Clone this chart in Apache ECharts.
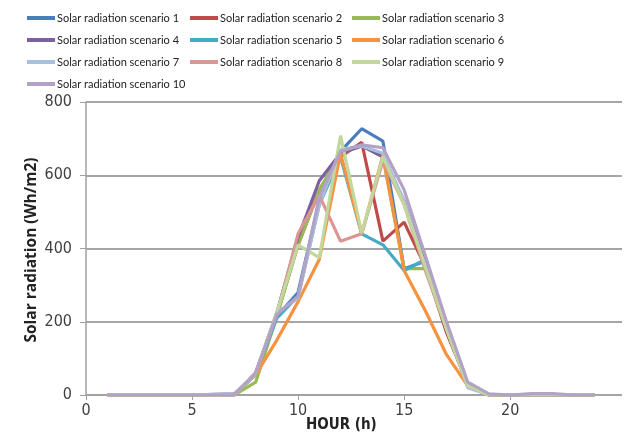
<!DOCTYPE html>
<html>
<head>
<meta charset="utf-8">
<script src="https://cdn.jsdelivr.net/npm/echarts@6/dist/echarts.min.js"></script>
<style>
  html, body { margin: 0; padding: 0; background: #fff; }
  #main { width: 642px; height: 442px; }
</style>
</head>
<body>
<div id="main"></div>
<script>
// hours 1..24
const hours = [1, 2, 3, 4, 5, 6, 7, 8, 9, 10, 11, 12, 13, 14, 15, 16, 17, 18, 19, 20, 21, 22, 23, 24];

const scenarioNames = [
  'Solar radiation scenario 1', 'Solar radiation scenario 2', 'Solar radiation scenario 3',
  'Solar radiation scenario 4', 'Solar radiation scenario 5', 'Solar radiation scenario 6',
  'Solar radiation scenario 7', 'Solar radiation scenario 8', 'Solar radiation scenario 9',
  'Solar radiation scenario 10'
];

const colors = ['#4a7ebb', '#be4b48', '#98b954', '#7d60a0', '#46aac5', '#f69240',
  '#a7c0de', '#d99694', '#c3d69b', '#b3a2c7'];

const s1 = [0, 0, 0, 0, 0, 2, 3, 60, 215, 280, 530, 665, 727, 693, 345, 365, 190, 30, 0, 0, 0, 0, 0, 0];
const s2 = [0, 0, 0, 0, 0, 0, 0, 60, 220, 410, 560, 650, 690, 420, 472, 350, 170, 30, 0, 0, 0, 0, 0, 0];
const s3 = [0, 0, 0, 0, 0, 0, 0, 35, 215, 410, 560, 660, 680, 650, 345, 345, 180, 25, 0, 0, 0, 0, 0, 0];
const s4 = [0, 0, 0, 0, 0, 0, 0, 60, 225, 430, 585, 660, 680, 650, 530, 360, 180, 25, 0, 0, 0, 0, 0, 0];
const s5 = [0, 0, 0, 0, 0, 0, 0, 60, 210, 270, 520, 650, 440, 410, 340, 370, 180, 25, 0, 0, 0, 0, 0, 0];
const s6 = [0, 0, 0, 0, 0, 0, 0, 55, 150, 255, 370, 660, 440, 655, 340, 230, 110, 25, 0, 0, 0, 0, 0, 0];
const s7 = [0, 0, 0, 0, 0, 0, 0, 60, 225, 265, 520, 670, 680, 660, 530, 350, 190, 20, 0, 0, 0, 0, 0, 0];
const s8 = [0, 0, 0, 0, 0, 0, 0, 60, 220, 440, 545, 420, 440, 640, 520, 340, 180, 30, 0, 0, 0, 0, 0, 0];
const s9 = [0, 0, 0, 0, 0, 0, 0, 60, 225, 410, 375, 708, 442, 651, 520, 350, 180, 25, 0, 0, 0, 0, 0, 0];
const s10 = [0, 0, 0, 0, 0, 0, 0, 60, 220, 270, 540, 665, 683, 675, 560, 380, 200, 35, 3, 0, 4, 4, 0, 0];

const allSeries = [s1, s2, s3, s4, s5, s6, s7, s8, s9, s10];

const xTicks = [0, 5, 10, 15, 20];
const yTicks = [0, 200, 400, 600, 800];

const chart = echarts.init(document.getElementById('main'));

const labelFont = "'DejaVu Sans Condensed', Lato, sans-serif";
const legendCommon = {
  orient: 'vertical',
  top: 6,
  icon: 'rect',
  itemWidth: 28,
  itemHeight: 4,
  itemGap: 8,
  itemStyle: { borderWidth: 0 },
  textStyle: { fontFamily: 'Lato', fontSize: 11, color: '#222', lineHeight: 14, padding: [0, 0, 0, -3] }
};

const option = {
  animation: false,
  color: colors,
  legend: [
    Object.assign({ left: 22, data: [scenarioNames[0], scenarioNames[3], scenarioNames[6], scenarioNames[9]] }, legendCommon),
    Object.assign({ left: 185, data: [scenarioNames[1], scenarioNames[4], scenarioNames[7]] }, legendCommon),
    Object.assign({ left: 347, data: [scenarioNames[2], scenarioNames[5], scenarioNames[8]] }, legendCommon)
  ],
  grid: [
    { left: 86, right: 47, top: 102, bottom: 47 },
    { left: 86, right: 20, top: 102, bottom: 47 }
  ],
  xAxis: [
    {
      type: 'value', gridIndex: 0, min: 0, max: 24, interval: 5,
      axisLine: { show: true, lineStyle: { color: '#a0a0a0', width: 1.5 } },
      axisTick: { show: true, length: 5, customValues: xTicks, lineStyle: { color: '#a0a0a0' } },
      splitLine: { show: false },
      axisLabel: {
        margin: 8, customValues: xTicks,
        fontFamily: labelFont, fontSize: 16, color: '#404040'
      }
    },
    { type: 'value', gridIndex: 1, min: 0, max: 24, show: false }
  ],
  yAxis: [
    {
      type: 'value', gridIndex: 0, min: 0, max: 800, interval: 200,
      axisLine: { show: true, lineStyle: { color: '#a0a0a0', width: 1.5 } },
      axisTick: { show: true, length: 6, lineStyle: { color: '#a0a0a0' } },
      splitLine: { show: false },
      axisLabel: {
        margin: 14, customValues: yTicks,
        fontFamily: labelFont, fontSize: 16, color: '#404040'
      }
    },
    {
      type: 'value', gridIndex: 1, min: 0, max: 800, interval: 200,
      axisLine: { show: false }, axisTick: { show: false }, axisLabel: { show: false },
      splitLine: { show: true, lineStyle: { color: '#a6a6a6', width: 2 } }
    }
  ],
  graphic: [
    {
      type: 'text', left: 306, top: 418,
      style: { text: 'HOUR (h)', fontFamily: labelFont, fontWeight: 'bold', fontSize: 15, fill: '#222' }
    },
    {
      type: 'text', x: 32, y: 250, rotation: Math.PI / 2,
      style: {
        text: 'Solar radiation (Wh/m2)', fontFamily: 'Open Sans', fontWeight: 'bold', fontSize: 15.5,
        fill: '#222', align: 'center', verticalAlign: 'middle'
      }
    }
  ],
  series: allSeries.map((vals, i) => ({
    name: scenarioNames[i],
    type: 'line',
    xAxisIndex: 0,
    yAxisIndex: 0,
    showSymbol: false,
    symbol: 'none',
    lineStyle: { width: 3.2, color: colors[i] },
    itemStyle: { color: colors[i] },
    data: hours.map((h, k) => [h, vals[k]])
  }))
};

chart.setOption(option);
</script>
</body>
</html>
